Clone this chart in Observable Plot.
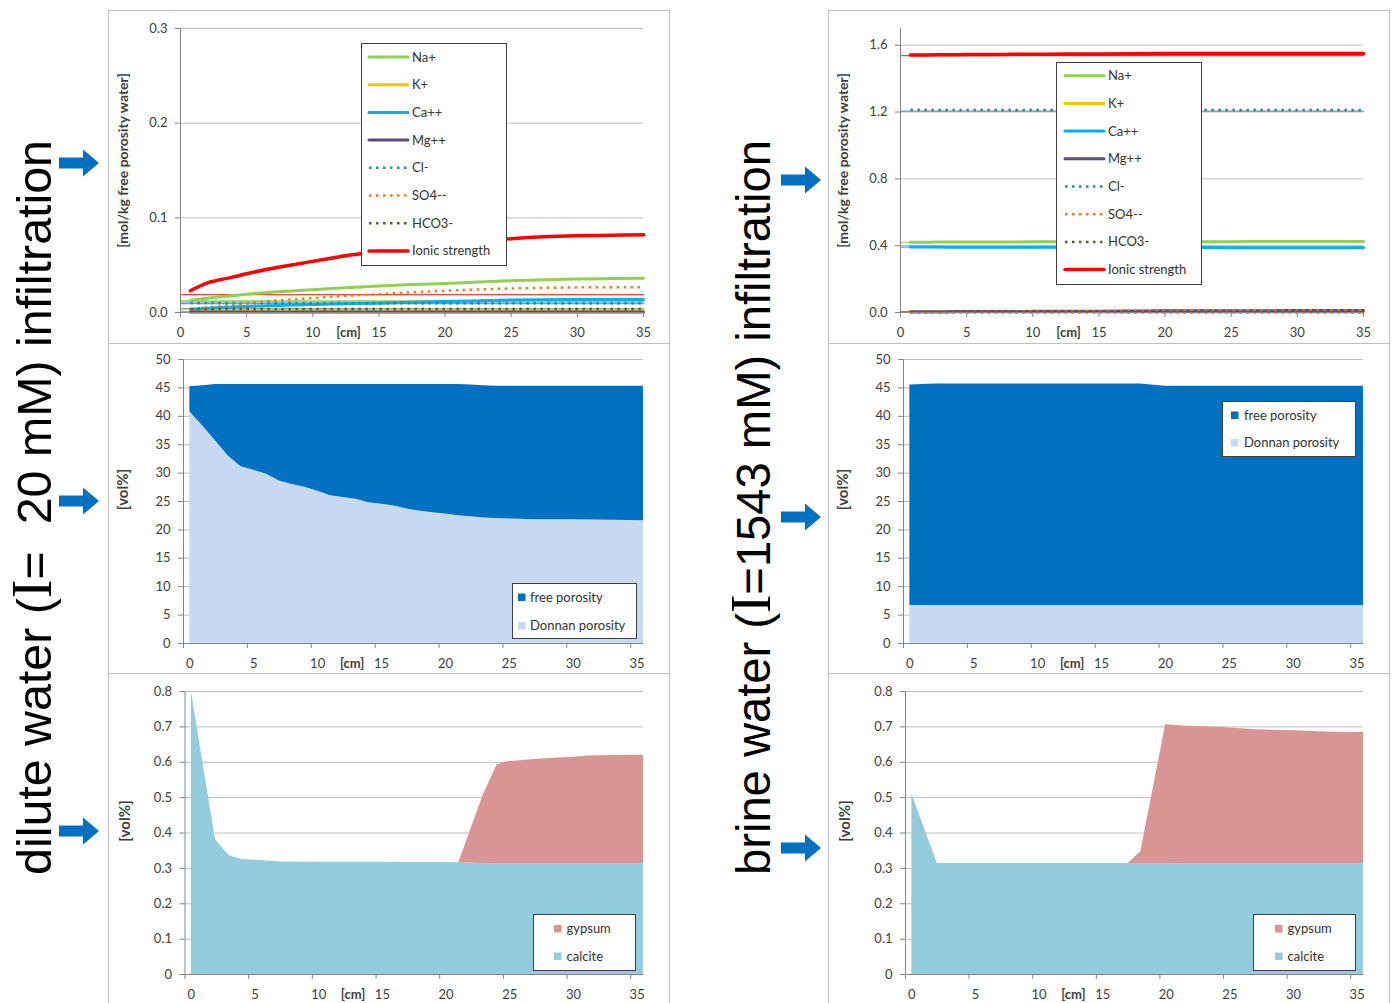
<!DOCTYPE html>
<html><head><meta charset="utf-8">
<script src="https://cdn.jsdelivr.net/npm/d3@7"></script>
<script src="https://cdn.jsdelivr.net/npm/@observablehq/plot@0.6"></script>
<style>
html,body{margin:0;padding:0;background:#fff;}
#root{position:relative;width:1392px;height:1003px;overflow:hidden;background:#fff;font-family:Lato,"Open Sans",sans-serif;}
#root > svg{position:absolute;}
</style></head>
<body><div id="root"></div>
<script>
// ================= DATA =================
const xTicks = [0, 5, 10, 15, 20, 25, 30, 35];
const xTickMarks = [-0.5, 4.5, 9.5, 14.5, 19.5, 24.5, 29.5, 34.5];
const concTicksDilute = [0, 0.1, 0.2, 0.3];
const concTicksBrine = [0, 0.4, 0.8, 1.2, 1.6];
const poroTicks = [0, 5, 10, 15, 20, 25, 30, 35, 40, 45, 50];
const minTicks = [0, 0.1, 0.2, 0.3, 0.4, 0.5, 0.6, 0.7, 0.8];

const ions = ["Na+", "K+", "Ca++", "Mg++", "Cl-", "SO4--", "HCO3-", "Ionic strength"];
const xCm = [0.75, 2, 3.5, 5, 7.5, 10, 12.5, 15, 17.5, 20, 22.5, 25, 27.5, 30, 32.5, 35];
const initX = [0, 35];

// dilute water (I = 20 mM)
const diluteNa   = [0.0130, 0.0150, 0.0172, 0.0194, 0.0220, 0.0240, 0.0262, 0.0280, 0.0295, 0.0307, 0.0322, 0.0335, 0.0345, 0.0353, 0.0358, 0.0362];
const diluteK    = [0.0008, 0.0008, 0.0008, 0.0008, 0.0008, 0.0008, 0.0008, 0.0008, 0.0008, 0.0008, 0.0008, 0.0008, 0.0008, 0.0008, 0.0008, 0.0008];
const diluteCa   = [0.0035, 0.0045, 0.0055, 0.0064, 0.0075, 0.0085, 0.0092, 0.0099, 0.0108, 0.0116, 0.0125, 0.0132, 0.0136, 0.0138, 0.0138, 0.0138];
const diluteMg   = [0.0004, 0.0004, 0.0004, 0.0004, 0.0004, 0.0004, 0.0004, 0.0004, 0.0004, 0.0004, 0.0004, 0.0004, 0.0004, 0.0004, 0.0004, 0.0004];
const diluteCl   = [0.0100, 0.0100, 0.0099, 0.0099, 0.0099, 0.0099, 0.0098, 0.0098, 0.0098, 0.0098, 0.0098, 0.0098, 0.0098, 0.0098, 0.0098, 0.0098];
const diluteSO4  = [0.0035, 0.0052, 0.0075, 0.0100, 0.0128, 0.0152, 0.0175, 0.0194, 0.0213, 0.0230, 0.0243, 0.0254, 0.0260, 0.0265, 0.0267, 0.0268];
const diluteHCO3 = [0.0036, 0.0036, 0.0036, 0.0036, 0.0036, 0.0036, 0.0036, 0.0036, 0.0036, 0.0036, 0.0036, 0.0036, 0.0036, 0.0036, 0.0036, 0.0036];
const diluteIS   = [0.0230, 0.0310, 0.0360, 0.0410, 0.0480, 0.0540, 0.0600, 0.0640, 0.0680, 0.0720, 0.0750, 0.0780, 0.0800, 0.0810, 0.0815, 0.0820];
// thin initial lines (order as ions)
const diluteInitial = [0.0125, 0.0005, 0.0113, 0.0003, 0.0095, 0.0001, 0.0038, 0.0188];

// brine water (I = 1543 mM)
const brineNa   = [0.421, 0.421, 0.422, 0.422, 0.422, 0.423, 0.423, 0.423, 0.424, 0.424, 0.424, 0.424, 0.425, 0.425, 0.425, 0.425];
const brineK    = [0.003, 0.003, 0.003, 0.003, 0.003, 0.003, 0.003, 0.003, 0.003, 0.003, 0.003, 0.003, 0.003, 0.003, 0.003, 0.003];
const brineCa   = [0.392, 0.392, 0.391, 0.391, 0.391, 0.390, 0.390, 0.390, 0.389, 0.389, 0.389, 0.388, 0.388, 0.388, 0.387, 0.387];
const brineMg   = [0.004, 0.005, 0.005, 0.006, 0.006, 0.007, 0.008, 0.008, 0.009, 0.010, 0.010, 0.011, 0.011, 0.012, 0.012, 0.012];
const brineCl   = [1.212, 1.212, 1.212, 1.212, 1.212, 1.212, 1.212, 1.212, 1.212, 1.212, 1.212, 1.212, 1.212, 1.212, 1.212, 1.212];
const brineSO4  = [0.004, 0.004, 0.005, 0.005, 0.006, 0.007, 0.007, 0.008, 0.009, 0.009, 0.010, 0.010, 0.011, 0.011, 0.012, 0.012];
const brineHCO3 = [0.001, 0.001, 0.001, 0.001, 0.001, 0.001, 0.001, 0.001, 0.001, 0.001, 0.001, 0.001, 0.001, 0.001, 0.001, 0.001];
const brineIS   = [1.541, 1.542, 1.543, 1.544, 1.545, 1.546, 1.547, 1.548, 1.549, 1.550, 1.551, 1.551, 1.551, 1.551, 1.550, 1.550];
const brineInitial = [0.420, 0.003, 0.392, 0.004, 1.206, 0.004, 0.001, 1.538];

// porosity [vol%]
const poroNames = ["Donnan porosity", "free porosity"];
const poroXDilute  = [0, 1, 2, 3, 4, 5, 6, 7, 8, 9, 10, 11, 12, 13, 14, 15, 16, 17, 18, 19, 20, 21, 22, 23, 24, 25, 27, 30, 33, 35.5];
const donnanDilute = [40.8, 38.3, 35.7, 33.0, 31.1, 30.5, 29.8, 28.6, 28.0, 27.5, 26.8, 26.0, 25.7, 25.4, 24.8, 24.5, 24.2, 23.7, 23.3, 23.0, 22.8, 22.5, 22.3, 22.1, 22.0, 21.9, 21.8, 21.8, 21.7, 21.6];
const freeDilute   = [4.4, 7.1, 9.9, 12.6, 14.5, 15.1, 15.8, 17.0, 17.6, 18.1, 18.8, 19.6, 19.9, 20.2, 20.8, 21.1, 21.4, 21.9, 22.3, 22.6, 22.8, 23.1, 23.2, 23.3, 23.3, 23.4, 23.5, 23.5, 23.6, 23.7];
const poroXBrine   = [0, 2, 5, 10, 15, 18, 20, 22, 25, 30, 35.5];
const donnanBrine  = [6.7, 6.7, 6.7, 6.7, 6.7, 6.7, 6.7, 6.7, 6.7, 6.7, 6.7];
const freeBrine    = [38.8, 39.0, 39.0, 39.0, 39.0, 39.0, 38.6, 38.6, 38.6, 38.6, 38.6];

// minerals [vol%]
const minNames = ["calcite", "gypsum"];
const minXDilute     = [0, 1.9, 3, 4, 5, 7, 10, 15, 21, 22.9, 24, 24.7, 26, 27.7, 30, 31.2, 33, 35.5];
const calciteDilute  = [0.80, 0.38, 0.335, 0.325, 0.323, 0.318, 0.317, 0.317, 0.316, 0.314, 0.313, 0.313, 0.313, 0.313, 0.313, 0.313, 0.313, 0.313];
const gypsumDilute   = [0, 0, 0, 0, 0, 0, 0, 0, 0, 0.191, 0.279, 0.288, 0.292, 0.297, 0.301, 0.305, 0.306, 0.307];
const minXBrine      = [0, 2, 5, 10, 15, 17, 18, 19.95, 21.6, 24.5, 27, 30, 33, 35.5];
const calciteBrine   = [0.51, 0.314, 0.314, 0.314, 0.314, 0.314, 0.314, 0.314, 0.313, 0.313, 0.313, 0.313, 0.313, 0.313];
const gypsumBrine    = [0, 0, 0, 0, 0, 0, 0.033, 0.392, 0.389, 0.385, 0.379, 0.376, 0.372, 0.371];

// ================= STYLES =================
const ionColors = ["#92D050", "#FFC000", "#00B0F0", "#604A7B", "#31859C", "#F07B1C", "#4F6228", "#FF0000"];
const ionDotted = [false, false, false, false, true, true, true, false];
const ionWidth  = [3, 3, 3, 3, 2.5, 2.5, 2.5, 3.5];
const poroColors = ["#C6D9F1", "#0070C0"];
const minColors  = ["#93CDDD", "#D99594"];
const AX = "#868686", GRID = "#BFBFBF", TXT = "#404040";
const FONT = "Lato, 'Open Sans', sans-serif";
const cmX = 12.7;

const root = document.getElementById("root");

function place(svg, left, top) {
  svg.style.position = "absolute";
  svg.style.left = left + "px";
  svg.style.top = top + "px";
  root.appendChild(svg);
}

function concPlot(g, series, initial, ticks, yMax) {
  const rows = [], init = [];
  ions.forEach((ion, i) => {
    series[i].forEach((v, j) => rows.push({ion, x: xCm[j], v}));
    initX.forEach(x => init.push({ion, x, v: initial[i]}));
  });
  const marks = [Plot.gridY(ticks, {stroke: GRID, strokeOpacity: 1})];
  ions.forEach((ion, i) => {
    marks.push(Plot.line(init.filter(d => d.ion === ion), {x: "x", y: "v", stroke: ionColors[i], strokeWidth: 1.3, strokeOpacity: 0.75}));
  });
  ions.forEach((ion, i) => {
    marks.push(Plot.line(rows.filter(d => d.ion === ion), {
      x: "x", y: "v", stroke: ionColors[i], strokeWidth: ionWidth[i], curve: "monotone-x",
      strokeDasharray: ionDotted[i] ? "2.5,4.5" : null, strokeLinecap: ionDotted[i] ? "butt" : "round"
    }));
  });
  marks.push(
    Plot.ruleX([0], {stroke: AX}),
    Plot.ruleY([0], {stroke: AX}),
    Plot.axisY({ticks, tickFormat: ".1f", tickSize: 5, tickPadding: 8, stroke: AX, fill: TXT, fontSize: 13, label: null}),
    Plot.axisX({ticks: xTicks, tickFormat: d => d, tickSize: 5, tickPadding: 10, stroke: AX, fill: TXT, fontSize: 13, label: null}),
    Plot.text(["[cm]"], {x: [cmX], text: d => d, frameAnchor: "bottom", dy: 24, fontWeight: "bold", fill: TXT, fontSize: 13}),
    Plot.text(["[mol/kg free porosity water]"], {text: d => d, frameAnchor: "left", textAnchor: "middle", rotate: -90, dx: -57, dy: -10, fontWeight: "bold", fill: TXT, fontSize: 14})
  );
  const svg = Plot.plot({
    width: g.w, height: g.h, marginLeft: g.mL, marginRight: g.mR, marginTop: g.mT, marginBottom: g.mB,
    x: {domain: [0, 35], label: null},
    y: {domain: [0, yMax], label: null},
    style: {fontFamily: FONT, fontSize: "13px", background: "transparent", overflow: "visible"},
    marks
  });
  place(svg, g.left, g.top);
}

function stackPlot(g, xs, layers, names, colors, yDomain, ticks, fmt, dyLabel) {
  const rows = [];
  names.forEach((name, k) => xs.forEach((x, i) => rows.push({name, x, v: layers[k][i]})));
  const svg = Plot.plot({
    width: g.w, height: g.h, marginLeft: g.mL, marginRight: g.mR, marginTop: g.mT, marginBottom: g.mB,
    x: {domain: [-0.5, 35.5], label: null},
    y: {domain: yDomain, label: null},
    color: {domain: names, range: colors},
    style: {fontFamily: FONT, fontSize: "13px", background: "transparent", overflow: "visible"},
    marks: [
      Plot.gridY(ticks, {stroke: GRID, strokeOpacity: 1}),
      Plot.areaY(rows, {x: "x", y: "v", z: "name", fill: "name", fillOpacity: 1}),
      Plot.ruleX([-0.5], {stroke: AX}),
      Plot.ruleY([0], {stroke: AX}),
      Plot.axisY({ticks, tickFormat: fmt, tickSize: 5, tickPadding: 8, stroke: AX, fill: TXT, fontSize: 13, label: null}),
      Plot.axisX({ticks: xTicks, tickFormat: d => d, tickSize: 0, tickPadding: 15, stroke: AX, fill: TXT, fontSize: 13, label: null}),
      Plot.axisX({ticks: xTickMarks, tickFormat: () => "", tickSize: 5, stroke: AX, label: null}),
      Plot.text(["[cm]"], {x: [cmX], text: d => d, frameAnchor: "bottom", dy: 24, fontWeight: "bold", fill: TXT, fontSize: 13}),
      Plot.text(["[vol%]"], {text: d => d, frameAnchor: "left", textAnchor: "middle", rotate: -90, dx: -60, dy: dyLabel, fontWeight: "bold", fill: TXT, fontSize: 15})
    ]
  });
  place(svg, g.left, g.top);
}

// panel geometry
const colL = 108, colR = 828, pw = 562;
concPlot({left: colL, top: 10, w: pw, h: 334, mL: 72, mR: 27, mT: 18, mB: 32},
  [diluteNa, diluteK, diluteCa, diluteMg, diluteCl, diluteSO4, diluteHCO3, diluteIS], diluteInitial, concTicksDilute, 0.3);
concPlot({left: colR, top: 10, w: pw, h: 334, mL: 72, mR: 27, mT: 18, mB: 32},
  [brineNa, brineK, brineCa, brineMg, brineCl, brineSO4, brineHCO3, brineIS], brineInitial, concTicksBrine, 1.7);

stackPlot({left: colL, top: 343, w: pw, h: 330, mL: 75, mR: 27, mT: 16, mB: 30},
  poroXDilute, [donnanDilute, freeDilute], poroNames, poroColors, [0, 50], poroTicks, d => d, -12);
stackPlot({left: colR, top: 343, w: pw, h: 330, mL: 75, mR: 27, mT: 16, mB: 30},
  poroXBrine, [donnanBrine, freeBrine], poroNames, poroColors, [0, 50], poroTicks, d => d, -12);

const minFmt = d => d === 0 ? "0" : d.toFixed(1);
stackPlot({left: colL, top: 673, w: pw, h: 330, mL: 76.5, mR: 27, mT: 18, mB: 29},
  minXDilute, [calciteDilute, gypsumDilute], minNames, minColors, [0, 0.8], minTicks, minFmt, -12);
stackPlot({left: colR, top: 673, w: pw, h: 330, mL: 77, mR: 27, mT: 18, mB: 29},
  minXBrine, [calciteBrine, gypsumBrine], minNames, minColors, [0, 0.8], minTicks, minFmt, -12);

// ================= OVERLAY (frames, legends, titles, arrows) =================
const ov = d3.select(root).append("svg")
  .attr("width", 1392).attr("height", 1003)
  .style("position", "absolute").style("left", "0px").style("top", "0px")
  .style("pointer-events", "none");

// panel frames
[colL, colR].forEach(x => {
  [[10, 333], [343, 330], [673, 340]].forEach(([y, h]) => {
    ov.append("rect").attr("x", x + 0.5).attr("y", y + 0.5).attr("width", pw - 1).attr("height", h)
      .attr("fill", "none").attr("stroke", "#C0C0C0").attr("stroke-width", 1);
  });
});

function lineLegend(box) {
  const g = ov.append("g");
  g.append("rect").attr("x", box.x + 0.5).attr("y", box.y + 0.5).attr("width", box.w).attr("height", box.h)
    .attr("fill", "#fff").attr("stroke", "#404040").attr("stroke-width", 1);
  ions.forEach((ion, i) => {
    const y = box.y0 + i * box.dy;
    g.append("line").attr("x1", box.l1).attr("x2", box.l2).attr("y1", y).attr("y2", y)
      .attr("stroke", ionColors[i]).attr("stroke-width", ionWidth[i])
      .attr("stroke-dasharray", ionDotted[i] ? "2.5,4.5" : null)
      .attr("stroke-linecap", ionDotted[i] ? "butt" : "round");
    g.append("text").attr("x", box.tx).attr("y", y).attr("dy", "0.35em")
      .attr("font-family", FONT).attr("font-size", 13).attr("fill", "#333").text(ion);
  });
}
lineLegend({x: 361, y: 43, w: 145, h: 222, y0: 57, dy: 27.7, l1: 369, l2: 408, tx: 412});
lineLegend({x: 1056, y: 62, w: 145, h: 222, y0: 75.7, dy: 27.7, l1: 1065, l2: 1104, tx: 1108});

function boxLegend(box, names, colors) {
  const g = ov.append("g");
  g.append("rect").attr("x", box.x + 0.5).attr("y", box.y + 0.5).attr("width", box.w).attr("height", box.h)
    .attr("fill", "#fff").attr("stroke", "#404040").attr("stroke-width", 1);
  names.forEach((n, i) => {
    const y = box.y0 + i * box.dy;
    g.append("rect").attr("x", box.sx).attr("y", y - 3.5).attr("width", 7.5).attr("height", 7.5).attr("fill", colors[i]);
    g.append("text").attr("x", box.tx).attr("y", y).attr("dy", "0.35em")
      .attr("font-family", FONT).attr("font-size", 13).attr("fill", "#333").text(n);
  });
}
const poroLegendNames = [poroNames[1], poroNames[0]], poroLegendColors = [poroColors[1], poroColors[0]];
const minLegendNames = [minNames[1], minNames[0]], minLegendColors = [minColors[1], minColors[0]];
boxLegend({x: 512, y: 583, w: 124, h: 55, y0: 597, dy: 28.5, sx: 518, tx: 530}, poroLegendNames, poroLegendColors);
boxLegend({x: 1222, y: 401, w: 133, h: 55, y0: 415, dy: 27.5, sx: 1231, tx: 1244}, poroLegendNames, poroLegendColors);
boxLegend({x: 533, y: 914, w: 102, h: 56, y0: 928.5, dy: 27.5, sx: 554, tx: 566.5}, minLegendNames, minLegendColors);
boxLegend({x: 1253, y: 914, w: 102, h: 56, y0: 928.5, dy: 27.5, sx: 1275, tx: 1287.5}, minLegendNames, minLegendColors);

// big rotated titles
function bigTitle(x, y, parts) {
  const t = ov.append("text").attr("transform", `translate(${x},${y}) rotate(-90)`)
    .attr("font-family", "'Liberation Sans', Arial, sans-serif").attr("font-size", 48).attr("fill", "#000")
    .attr("textLength", 735).attr("lengthAdjust", "spacingAndGlyphs")
    .style("white-space", "pre");
  parts.forEach(([s, serif]) => {
    const ts = t.append("tspan").text(s);
    if (serif) ts.attr("font-family", "'Liberation Serif', 'Times New Roman', serif").attr("font-size", 56);
  });
}
bigTitle(51, 875, [["dilute water (", false], ["I", true], ["=  20 mM) infiltration", false]]);
bigTitle(770, 875, [["brine water (", false], ["I", true], ["=1543 mM) infiltration", false]]);

// arrows
function arrow(x0, yc) {
  const s = 5.5, h = 13.5, xs = x0 + 24, xt = x0 + 40;
  ov.append("path")
    .attr("d", `M${x0},${yc - s}L${xs},${yc - s}L${xs},${yc - h}L${xt},${yc}L${xs},${yc + h}L${xs},${yc + s}L${x0},${yc + s}Z`)
    .attr("fill", "#0070C0");
}
[163, 501, 831].forEach(y => arrow(59, y));
[180, 517, 848].forEach(y => arrow(781, y));
</script>
</body></html>
